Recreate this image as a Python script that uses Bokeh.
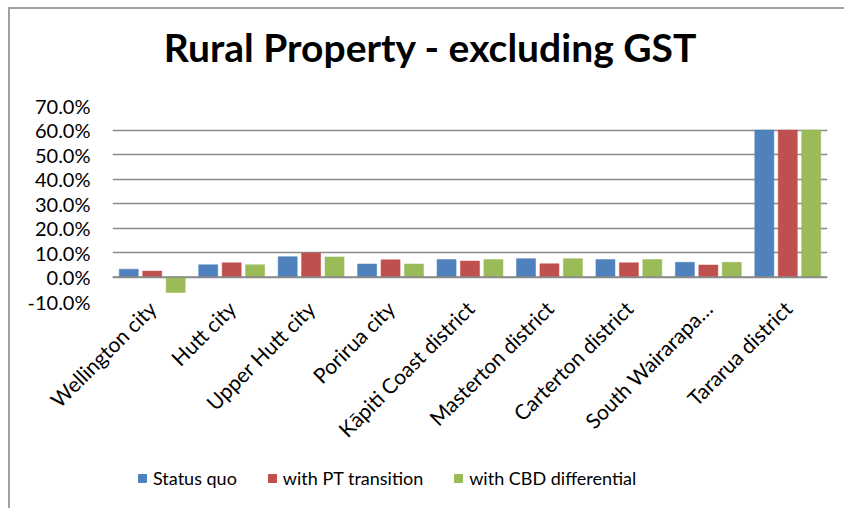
import math
from bokeh.plotting import figure
from bokeh.layouts import column
from bokeh.models import (ColumnDataSource, FactorRange, Range1d, FixedTicker,
                          PrintfTickFormatter, Span, Label, Legend, LegendItem)
from bokeh.transform import dodge
from bokeh.embed import file_html
from bokeh.resources import INLINE

categories = ["Wellington city", "Hutt city", "Upper Hutt city", "Porirua city",
              "Kāpiti Coast district", "Masterton district", "Carterton district",
              "South Wairarapa…", "Tararua district"]
status_quo = [3.2, 5.0, 8.3, 5.3, 7.1, 7.5, 7.1, 6.0, 60.0]
pt_transition = [2.4, 5.8, 9.8, 7.0, 6.5, 5.4, 5.8, 4.9, 60.0]
cbd_differential = [-6.3, 5.0, 8.2, 5.3, 7.1, 7.5, 7.1, 6.0, 60.0]
series_names = ["Status quo", "with PT transition", "with CBD differential"]
colors = ["#4F81BD", "#C0504D", "#9BBB59"]
y_ticks = [-10, 0, 10, 20, 30, 40, 50, 60, 70]
title_text = "Rural Property - excluding GST"

FONT = "Lato"
W = 834
BL, BR = 102, 17
HEAD_H = 84
MAIN_H = 368
LEG_H = 47


def blank(height):
    f = figure(width=W, height=height, x_range=Range1d(BL, W - BR), y_range=Range1d(0, height),
               output_backend="svg", toolbar_location=None, title=None,
               x_axis_location=None, y_axis_location=None,
               min_border_left=BL, min_border_right=BR, min_border_top=0, min_border_bottom=0)
    f.outline_line_color = None
    f.grid.visible = False
    return f


# ---- title strip ----
head = blank(HEAD_H)
head.add_layout(Label(x=420, y=47, text=title_text, text_align="center",
                      text_baseline="alphabetic", text_font=FONT, text_font_size="39px",
                      text_font_style="bold", text_color="#000000"))

# ---- main chart ----
src = ColumnDataSource(dict(cat=categories, s1=status_quo, s2=pt_transition, s3=cbd_differential))

p = figure(width=W, height=MAIN_H, x_range=FactorRange(*categories),
           y_range=Range1d(-10, 70), output_backend="svg", toolbar_location=None,
           title=None,
           min_border_left=BL, min_border_right=BR, min_border_top=12,
           min_border_bottom=MAIN_H - 12 - 196)

for key, off, col in zip(["s1", "s2", "s3"], [-0.295, 0.0, 0.295], colors):
    p.vbar(x=dodge("cat", off, range=p.x_range), top=key, bottom=0, width=0.24,
           source=src, fill_color=col, line_color=col, line_width=0.5)

p.outline_line_color = None
p.xgrid.grid_line_color = None
p.ygrid.grid_line_color = "#8a8a8a"
p.ygrid.grid_line_width = 1.5
p.ygrid.ticker = FixedTicker(ticks=y_ticks)

p.yaxis.ticker = FixedTicker(ticks=y_ticks)
p.yaxis.formatter = PrintfTickFormatter(format="%.1f%%")
p.yaxis.axis_line_color = None
p.yaxis.major_tick_line_color = None
p.yaxis.minor_tick_line_color = None
p.yaxis.major_tick_out = 0
p.yaxis.minor_tick_out = 0
p.yaxis.major_label_standoff = 22
p.yaxis.major_label_text_font = FONT
p.yaxis.major_label_text_font_size = "20px"
p.yaxis.major_label_text_color = "#000000"

p.xaxis.axis_line_color = None
p.xaxis.major_tick_line_color = None
p.xaxis.minor_tick_line_color = None
p.xaxis.major_tick_out = 0
p.xaxis.minor_tick_out = 0
p.xaxis.major_label_orientation = math.pi / 4
p.xaxis.major_label_standoff = 3
p.xaxis.major_label_text_font = FONT
p.xaxis.major_label_text_font_size = "21px"
p.xaxis.major_label_text_color = "#000000"

p.add_layout(Span(location=0, dimension="width", line_color="#8a8a8a", line_width=1.5))

# ---- legend strip ----
leg = blank(LEG_H)
dummies = [leg.vbar(x=[-5000], top=[-5000], width=1, fill_color=c, line_color=c) for c in colors]
legend = Legend(items=[LegendItem(label=n, renderers=[r]) for n, r in zip(series_names, dummies)],
                location=(25, 19), orientation="horizontal")
legend.border_line_color = None
legend.background_fill_alpha = 0
legend.padding = 0
legend.margin = 0
legend.spacing = 30
legend.glyph_width = 10
legend.glyph_height = 10
legend.label_standoff = 6
legend.label_text_font = FONT
legend.label_text_font_size = "18px"
legend.label_text_color = "#000000"
leg.add_layout(legend, "center")

layout = column(head, p, leg, spacing=0)
layout.styles = {"margin-left": "8px", "margin-top": "7px",
                 "border-left": "2px solid #a0a0a0", "border-top": "2px solid #a0a0a0"}

open("out.html", "w").write(file_html(layout, INLINE))
